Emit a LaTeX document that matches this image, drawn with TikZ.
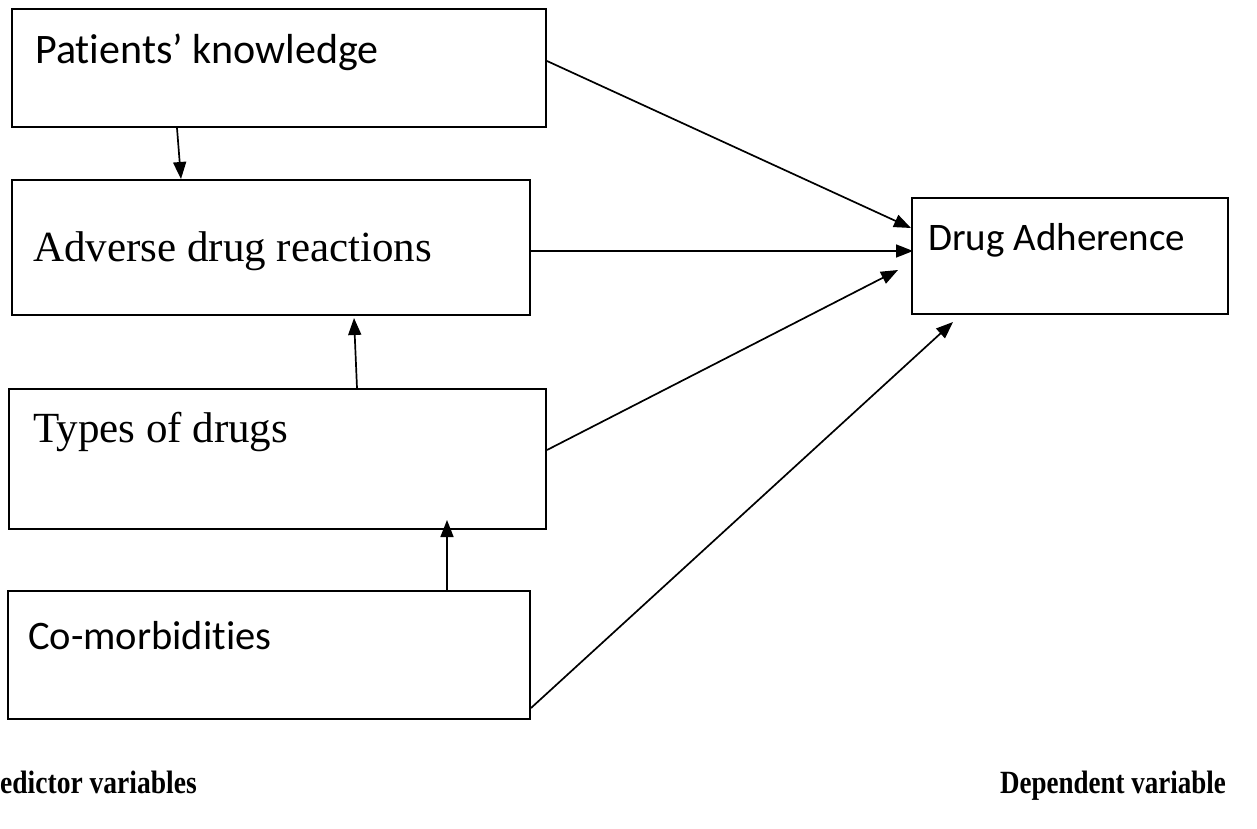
\documentclass[tikz,border=0pt]{standalone}
\usepackage{fontspec}
\setmainfont{Liberation Serif}
\newfontfamily\calib[Ligatures=NoCommon]{Carlito}
\usetikzlibrary{arrows.meta,calc}
\tikzset{
  box/.style={draw=black, line width=2pt, rectangle, inner sep=0pt, anchor=north west},
  arr/.style={draw=black, line width=1.7pt, -{Triangle[length=17pt,width=13pt]}},
  sanslbl/.style={anchor=base west, inner sep=0pt, font=\calib\fontsize{42}{50}\selectfont},
  seriflbl/.style={anchor=base west, inner sep=0pt, font=\fontsize{43}{51}\selectfont},
  boldlbl/.style={anchor=base west, inner sep=0pt, font=\bfseries\fontsize{27}{33}\selectfont}
}
\begin{document}
\begin{tikzpicture}[x=1pt,y=-1pt]
\path[use as bounding box, fill=white] (0,0) rectangle (1257,829);
% boxes
\node[box, minimum width=534pt, minimum height=118pt] (pk) at (11,8) {};
\node[box, minimum width=518pt, minimum height=135pt] (adr) at (11,179) {};
\node[box, minimum width=537pt, minimum height=140pt] (types) at (8,388) {};
\node[box, minimum width=522pt, minimum height=128pt] (com) at (7,590) {};
\node[box, minimum width=316pt, minimum height=116pt] (da) at (911,197) {};
% labels
\node[sanslbl] (pkt) at (35,64) {Patients’ knowledge};
\node[seriflbl] (adrt) at (33,261) {Adverse drug reactions};
\node[seriflbl] (typest) at (33,442) {Types of drugs};
\node[sanslbl, font=\calib\fontsize{40.5}{48}\selectfont] (comt) at (28,649) {Co-morbidities};
\node[sanslbl, font=\calib\fontsize{39}{47}\selectfont] (dat) at (928,250) {Drug Adherence};
\node[boldlbl] (pred) at (0,793) {\scalebox{1.02}[1.2]{edictor variables}};
\node[boldlbl] (dep) at (1000,793) {\scalebox{1.0}[1.2]{Dependent variable}};
% connectors
\draw[arr] ([yshift=-53pt]pk.north east) -- ([yshift=-31pt]da.north west);
\draw[arr] ([yshift=-72pt]adr.north east) -- ([xshift=2pt,yshift=-54pt]da.north west);
\draw[arr] ([yshift=-62pt]types.north east) -- ([xshift=-13pt,yshift=-73pt]da.north west);
\draw[arr] ([yshift=-118pt]com.north east) -- ([xshift=42pt,yshift=-7pt]da.south west);
\draw[arr] ([xshift=166pt]pk.south west) -- ([xshift=170pt]adr.north west);
\draw[arr] ([xshift=349pt]types.north west) -- ([xshift=343pt,yshift=-2pt]adr.south west);
\draw[arr] ([xshift=440pt]com.north west) -- ([xshift=439pt,yshift=10pt]types.south west);
\end{tikzpicture}
\end{document}
